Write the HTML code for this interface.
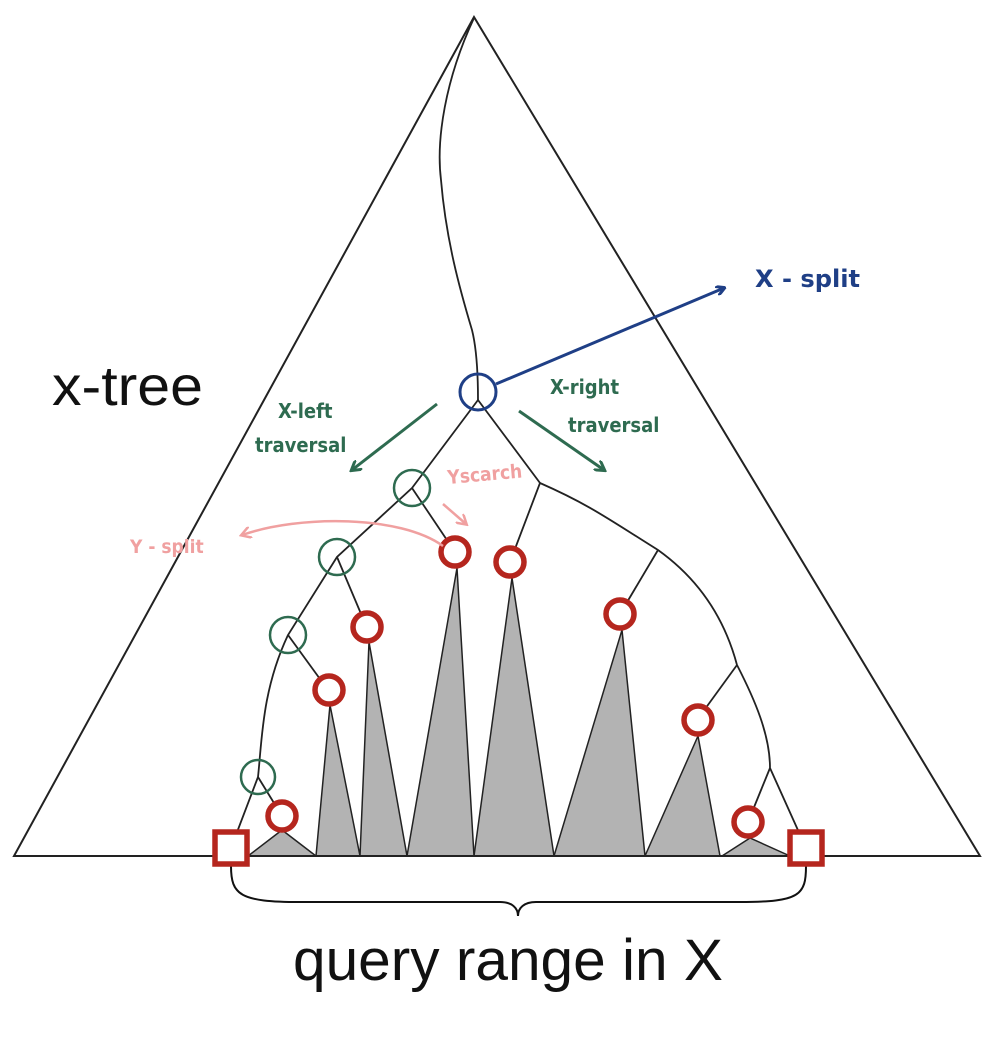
<!DOCTYPE html>
<html><head><meta charset="utf-8"><style>
html,body{margin:0;padding:0;background:#fff;width:1007px;height:1042px;overflow:hidden}
svg{display:block}
.hand{font-family:"DejaVu Sans Condensed","DejaVu Sans","Liberation Sans",sans-serif;font-weight:bold}
</style></head><body>
<svg width="1007" height="1042" viewBox="0 0 1007 1042">
<defs>
<marker id="ab" markerWidth="10" markerHeight="10" refX="8" refY="5" orient="auto" markerUnits="userSpaceOnUse"><path d="M0,0 L9,5 L0,10" fill="none" stroke="#1f3f86" stroke-width="3"/></marker>
<marker id="ag" markerWidth="12" markerHeight="12" refX="9" refY="6" orient="auto" markerUnits="userSpaceOnUse"><path d="M0,0 L10,6 L0,12" fill="none" stroke="#2e6b50" stroke-width="3"/></marker>
<marker id="ap" markerWidth="12" markerHeight="12" refX="9" refY="6" orient="auto" markerUnits="userSpaceOnUse"><path d="M0,0 L10,6 L0,12" fill="none" stroke="#f0a0a0" stroke-width="2.5"/></marker>
</defs>
<g fill="#b3b3b3" stroke="#222" stroke-width="1.5">
<polygon points="282,830 248,856 316,856"/>
<polygon points="330,705 316,856 360,856"/>
<polygon points="369,642 360,856 407,856"/>
<polygon points="457,568 407,856 474,856"/>
<polygon points="512,578 474,856 554,856"/>
<polygon points="622,630 554,856 645,856"/>
<polygon points="698,736 645,856 720,856"/>
<polygon points="750,838 722,856 790,856"/>
</g>
<polygon points="474,17 14,856 980,856" fill="none" stroke="#222" stroke-width="2"/>
<g fill="none" stroke="#222" stroke-width="1.8">
<path d="M474,18 C445,80 436,140 441,180 C446,240 460,290 472,330 C477,350 478,375 478,400"/>
<path d="M478,400 L412,488 L337,557 L288,635 C262,690 262,740 258,777 L231,848"/>
<path d="M412,488 L455,552"/>
<path d="M337,557 L367,628"/>
<path d="M288,635 L328,690"/>
<path d="M258,777 L282,816"/>
<path d="M478,400 L540,483 L510,562"/>
<path d="M540,483 C590,505 610,520 658,550 C700,580 725,620 737,665 C755,700 770,735 770,768 L806,848"/>
<path d="M658,550 L620,614"/>
<path d="M737,665 L697,720"/>
<path d="M770,768 L748,822"/>
</g>
<path d="M231,866 C231,895 240,902 300,902 L500,902 C512,902 518,908 518,916 C518,908 524,902 536,902 L740,902 C800,902 806,895 806,866" fill="none" stroke="#111" stroke-width="2"/>
<g fill="#fff" stroke="#b5261e" stroke-width="5.5">
<circle cx="455" cy="552" r="14"/>
<circle cx="510" cy="562" r="14"/>
<circle cx="367" cy="627" r="14"/>
<circle cx="329" cy="690" r="14"/>
<circle cx="282" cy="816" r="14"/>
<circle cx="620" cy="614" r="14"/>
<circle cx="698" cy="720" r="14"/>
<circle cx="748" cy="822" r="14"/>
<rect x="215" y="832" width="32" height="32"/>
<rect x="790" y="832" width="32" height="32"/>
</g>
<g fill="none" stroke="#2e6b50" stroke-width="2.5">
<circle cx="412" cy="488" r="18"/>
<circle cx="337" cy="557" r="18"/>
<circle cx="288" cy="635" r="18"/>
<circle cx="258" cy="777" r="17"/>
</g>
<circle cx="478" cy="392" r="18" fill="none" stroke="#1f3f86" stroke-width="3"/>
<line x1="496" y1="384" x2="724" y2="288" stroke="#1f3f86" stroke-width="3" marker-end="url(#ab)"/>
<line x1="437" y1="404" x2="352" y2="470" stroke="#2e6b50" stroke-width="3" marker-end="url(#ag)"/>
<line x1="519" y1="411" x2="604" y2="470" stroke="#2e6b50" stroke-width="3" marker-end="url(#ag)"/>
<line x1="443" y1="504" x2="466" y2="524" stroke="#f0a0a0" stroke-width="2.5" marker-end="url(#ap)"/>
<path d="M443,546 C400,515 300,515 242,535" fill="none" stroke="#f0a0a0" stroke-width="2.5" marker-end="url(#ap)"/>
<text x="52" y="405" font-family="Liberation Sans,sans-serif" font-size="56" textLength="151" lengthAdjust="spacingAndGlyphs" fill="#111">x-tree</text>
<text x="755" y="287" class="hand" font-size="24" fill="#1f3f86" textLength="105" lengthAdjust="spacingAndGlyphs">X - split</text>
<text x="278" y="418" class="hand" font-size="20" fill="#2e6b50">X-left</text>
<text x="255" y="452" class="hand" font-size="20" fill="#2e6b50">traversal</text>
<text x="550" y="394" class="hand" font-size="20" fill="#2e6b50">X-right</text>
<text x="568" y="432" class="hand" font-size="20" fill="#2e6b50">traversal</text>
<text x="448" y="484" class="hand" font-size="19" fill="#f0a0a0" transform="rotate(-5 448 484)">Yscarch</text>
<text x="130" y="553" class="hand" font-size="19" fill="#f0a0a0">Y - split</text>
<text x="293" y="980" font-family="Liberation Sans,sans-serif" font-size="58" textLength="430" lengthAdjust="spacingAndGlyphs" fill="#111">query range in X</text>
</svg>
</body></html>
